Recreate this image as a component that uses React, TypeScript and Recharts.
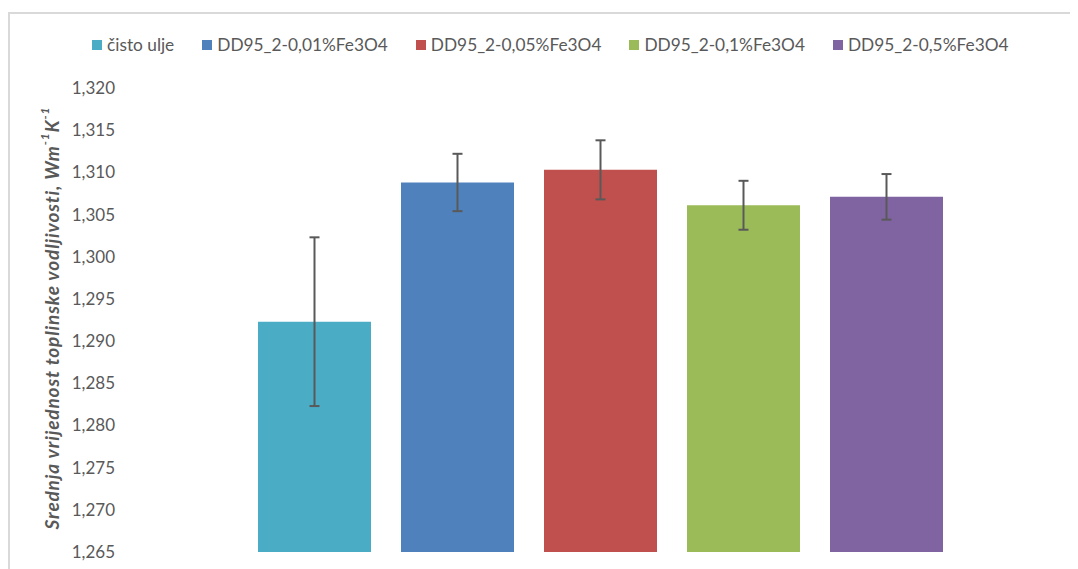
import { BarChart, Bar, XAxis, YAxis, Legend, ErrorBar } from "recharts";

const seriesNames = [
  "čisto ulje",
  "DD95_2-0,01%Fe3O4",
  "DD95_2-0,05%Fe3O4",
  "DD95_2-0,1%Fe3O4",
  "DD95_2-0,5%Fe3O4",
];
const seriesColors = ["#4BACC6", "#4F81BD", "#C0504D", "#9BBB59", "#8064A2"];
const meanValues = [1.2923, 1.3088, 1.3103, 1.3061, 1.3071];
const errValues = [0.01, 0.0034, 0.0035, 0.0029, 0.0027];
const yTicks = [
  1.265, 1.27, 1.275, 1.28, 1.285, 1.29, 1.295, 1.3, 1.305, 1.31, 1.315, 1.32,
];

const FONT = "Lato, 'Open Sans', sans-serif";
const TEXT = "#595959";

const row: Record<string, number | string> = { name: "" };
meanValues.forEach((v, i) => {
  row["s" + i] = v;
  row["e" + i] = errValues[i];
});
const data = [row];

/* ── legend ─────────────────────────────────────────────── */

function LegendRow() {
  return (
    <div
      style={{
        height: 56,
        display: "flex",
        justifyContent: "flex-start",
        alignItems: "flex-start",
        fontFamily: FONT,
        fontSize: 17.3,
        color: TEXT,
        lineHeight: "26px",
        paddingLeft: 84,
      }}
    >
      {seriesNames.map((n, i) => (
        <div key={n} style={{ display: "flex", alignItems: "center", marginRight: 28 }}>
          <span
            style={{
              width: 10,
              height: 10,
              background: seriesColors[i],
              marginRight: 5,
              display: "inline-block",
            }}
          />
          <span>{n}</span>
        </div>
      ))}
    </div>
  );
}

/* ── y label with superscripts ──────────────────────────── */

function YLabel() {
  const x = 43;
  const y = 310;
  return (
    <text
      x={x}
      y={y}
      transform={`rotate(-90, ${x}, ${y})`}
      textAnchor="middle"
      dominantBaseline="central"
      fontFamily={FONT}
      fontSize={19}
      letterSpacing={0.85}
      fontWeight="bold"
      fontStyle="italic"
      fill={TEXT}
    >
      Srednja vrijednost toplinske vodljivosti, Wm
      <tspan dy={-7} fontSize={12}>-1</tspan>
      <tspan dy={7}>K</tspan>
      <tspan dy={-7} fontSize={12}>-1</tspan>
    </text>
  );
}

export default function App() {
  return (
    <div style={{ position: "relative", width: 1070, height: 561, overflow: "hidden" }}>
      <div
        style={{
          position: "absolute",
          left: 0,
          top: 4,
          width: 1100,
          height: 600,
          borderLeft: "2px solid #d9d9d9",
          borderTop: "2px solid #d9d9d9",
        }}
      />
      <div style={{ position: "absolute", left: 0, top: 0 }}>
        <BarChart
          width={1070}
          height={561}
          data={data}
          margin={{ top: 24, right: 2, bottom: 17, left: 0 }}
          barGap={30}
          barSize={113}
        >
          <XAxis dataKey="name" hide />
          <YAxis
            width={117}
            domain={[1.265, 1.32]}
            ticks={yTicks}
            allowDataOverflow
            axisLine={false}
            tickLine={false}
            tickMargin={4}
            tick={{ fill: TEXT, fontSize: 17, fontFamily: FONT }}
            tickFormatter={(v: number) => v.toFixed(3).replace(".", ",")}
            label={{ content: () => <YLabel /> }}
          />
          <Legend verticalAlign="top" content={() => <LegendRow />} />
          {seriesNames.map((n, i) => (
            <Bar
              key={n}
              dataKey={"s" + i}
              name={n}
              fill={seriesColors[i]}
              isAnimationActive={false}
            >
              <ErrorBar
                dataKey={"e" + i}
                width={5}
                strokeWidth={2}
                stroke={TEXT}
                direction="y"
              />
            </Bar>
          ))}
        </BarChart>
      </div>
    </div>
  );
}
